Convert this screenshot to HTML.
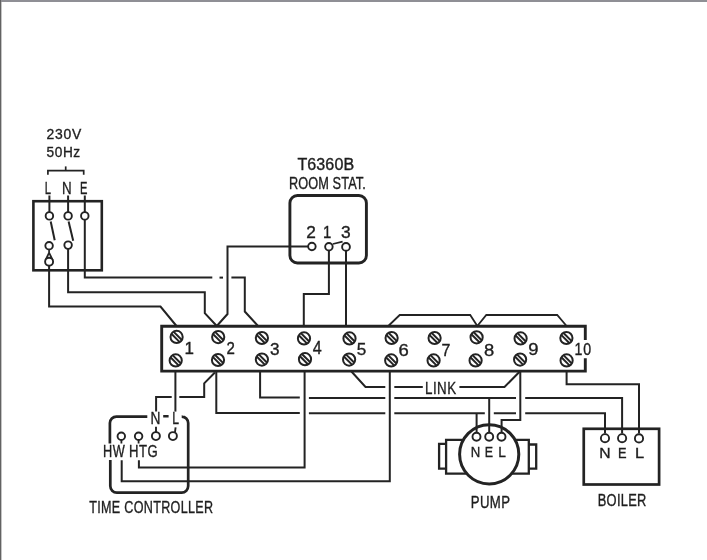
<!DOCTYPE html>
<html><head><meta charset="utf-8"><style>
html,body{margin:0;padding:0;background:#fff;}
body{width:707px;height:560px;overflow:hidden;position:relative;}
.bt{position:absolute;left:0;top:0;width:707px;height:2px;background:#8f8f95;}
.bl{position:absolute;left:0;top:0;width:1px;height:560px;background:#626262;}
.bl2{position:absolute;left:1px;top:2px;width:1px;height:558px;background:#c4c4c4;}
svg{position:absolute;left:0;top:0;will-change:transform;}
</style></head><body>
<svg width="707" height="560" viewBox="0 0 707 560">
<g fill="#1e1e1e" stroke="#1e1e1e" stroke-width="0.35" font-family="Liberation Sans, sans-serif">
<text transform="translate(46.38,138.78) scale(0.9803,1)" font-size="14.20" letter-spacing="0.816">230V</text>
<text transform="translate(46.53,156.98) scale(0.9333,1)" font-size="14.63" letter-spacing="0.643">50Hz</text>
<text transform="translate(44.65,193.52) scale(0.6582,1)" font-size="17.09">L</text>
<text transform="translate(61.97,193.52) scale(0.7819,1)" font-size="17.09">N</text>
<text transform="translate(79.95,193.52) scale(0.6525,1)" font-size="17.09">E</text>
<text transform="translate(297.41,170.47) scale(1.0284,1)" font-size="15.62" letter-spacing="0.097">T6360B</text>
<text transform="translate(288.92,188.56) scale(0.7951,1)" font-size="16.04" letter-spacing="0.126">ROOM STAT.</text>
<text transform="translate(306.31,238.12) scale(1.0697,1)" font-size="16.13">2</text>
<text transform="translate(323.06,238.12) scale(0.9114,1)" font-size="16.36">1</text>
<text transform="translate(341.02,237.97) scale(1.0923,1)" font-size="15.90">3</text>
<text transform="translate(184.40,354.43) scale(1.0116,1)" font-size="16.80">1</text>
<text transform="translate(226.52,354.43) scale(0.8714,1)" font-size="17.28">2</text>
<text transform="translate(270.03,355.06) scale(1.0510,1)" font-size="16.33">3</text>
<text transform="translate(312.81,354.43) scale(0.9208,1)" font-size="17.53">4</text>
<text transform="translate(356.69,355.05) scale(1.0015,1)" font-size="17.13">5</text>
<text transform="translate(398.45,355.95) scale(1.0854,1)" font-size="17.03">6</text>
<text transform="translate(441.43,355.62) scale(0.9537,1)" font-size="16.80">7</text>
<text transform="translate(483.89,355.95) scale(1.0806,1)" font-size="17.03">8</text>
<text transform="translate(528.30,355.45) scale(1.0854,1)" font-size="17.03">9</text>
<text transform="translate(574.61,355.26) scale(0.8842,1)" font-size="16.04" letter-spacing="0.905">10</text>
<text transform="translate(424.97,393.52) scale(0.7824,1)" font-size="17.09" letter-spacing="0.639">LINK</text>
<text transform="translate(150.44,424.12) scale(0.8776,1)" font-size="15.64">N</text>
<text transform="translate(172.37,424.12) scale(0.7776,1)" font-size="15.64">L</text>
<text transform="translate(103.12,456.72) scale(0.7794,1)" font-size="16.36" letter-spacing="0.642">HW</text>
<text transform="translate(128.99,456.57) scale(0.8262,1)" font-size="15.90" letter-spacing="0.605">HTG</text>
<text transform="translate(89.29,513.46) scale(0.7848,1)" font-size="16.04" letter-spacing="0.382">TIME CONTROLLER</text>
<text transform="translate(470.69,456.52) scale(0.8591,1)" font-size="15.35">N</text>
<text transform="translate(484.85,456.52) scale(0.8108,1)" font-size="15.35">E</text>
<text transform="translate(498.24,456.52) scale(0.8960,1)" font-size="15.35">L</text>
<text transform="translate(470.69,507.77) scale(0.8254,1)" font-size="15.99" letter-spacing="0.485">PUMP</text>
<text transform="translate(599.18,458.22) scale(1.0527,1)" font-size="14.91">N</text>
<text transform="translate(617.92,458.22) scale(0.8593,1)" font-size="14.91">E</text>
<text transform="translate(635.12,458.22) scale(1.1052,1)" font-size="14.91">L</text>
<text transform="translate(597.71,505.57) scale(0.8170,1)" font-size="15.76" letter-spacing="0.367">BOILER</text>
</g>
<rect x="163.2" y="415" width="5.4" height="2.5" fill="#232323"/>
<path d="M47.90 174.70 L47.90 170.70 L83.70 170.70 L83.70 174.70" fill="none" stroke="#232323" stroke-width="1.7" stroke-linejoin="miter" stroke-linecap="butt"/>
<path d="M65.70 166.40 L65.70 170.70" fill="none" stroke="#232323" stroke-width="1.7" stroke-linejoin="miter" stroke-linecap="butt"/>
<rect x="33.4" y="201.2" width="68.4" height="69.1" fill="none" stroke="#232323" stroke-width="2.6"/>
<path d="M49.40 195.50 L49.40 212.30" fill="none" stroke="#232323" stroke-width="2.0" stroke-linejoin="miter" stroke-linecap="butt"/>
<path d="M68.10 195.50 L68.10 212.30" fill="none" stroke="#232323" stroke-width="2.0" stroke-linejoin="miter" stroke-linecap="butt"/>
<path d="M84.80 195.50 L84.80 212.30" fill="none" stroke="#232323" stroke-width="2.0" stroke-linejoin="miter" stroke-linecap="butt"/>
<path d="M84.80 219.50 L84.80 277.60 L212.30 277.60" fill="none" stroke="#232323" stroke-width="2.0" stroke-linejoin="miter" stroke-linecap="butt"/>
<path d="M219.50 277.60 L223.00 277.60" fill="none" stroke="#232323" stroke-width="2.0" stroke-linejoin="miter" stroke-linecap="butt"/>
<path d="M231.40 277.60 L244.80 277.60 L244.80 311.50 L258.00 326.00" fill="none" stroke="#232323" stroke-width="2.0" stroke-linejoin="miter" stroke-linecap="butt"/>
<path d="M50.70 221.50 L54.70 240.20" fill="none" stroke="#232323" stroke-width="2.0" stroke-linejoin="miter" stroke-linecap="butt"/>
<path d="M68.60 221.50 L73.20 240.80" fill="none" stroke="#232323" stroke-width="2.0" stroke-linejoin="miter" stroke-linecap="butt"/>
<path d="M68.10 248.70 L68.10 292.20 L204.80 292.20 L204.80 313.20 L216.80 326.00" fill="none" stroke="#232323" stroke-width="2.0" stroke-linejoin="miter" stroke-linecap="butt"/>
<path d="M49.10 249.30 L49.10 252.50" fill="none" stroke="#232323" stroke-width="1.6" stroke-linejoin="miter" stroke-linecap="butt"/>
<path d="M45.50 260.10 L49.10 252.70 L52.70 260.10" fill="none" stroke="#232323" stroke-width="1.8" stroke-linejoin="miter" stroke-linecap="butt"/>
<path d="M49.10 265.80 L49.10 306.60 L160.50 306.60 L176.50 326.00" fill="none" stroke="#232323" stroke-width="2.0" stroke-linejoin="miter" stroke-linecap="butt"/>
<circle cx="49.40" cy="215.90" r="3.75" fill="#fff" stroke="#232323" stroke-width="1.9"/>
<circle cx="68.10" cy="215.90" r="3.75" fill="#fff" stroke="#232323" stroke-width="1.9"/>
<circle cx="84.80" cy="215.90" r="3.75" fill="#fff" stroke="#232323" stroke-width="1.9"/>
<circle cx="68.10" cy="245.10" r="3.75" fill="#fff" stroke="#232323" stroke-width="1.9"/>
<circle cx="49.10" cy="245.70" r="3.75" fill="#fff" stroke="#232323" stroke-width="1.9"/>
<circle cx="49.10" cy="261.80" r="4.0" fill="#fff" stroke="#232323" stroke-width="1.9"/>
<rect x="289.9" y="195.5" width="76.5" height="67.5" rx="7.5" ry="7.5" fill="none" stroke="#232323" stroke-width="2.9"/>
<path d="M308.30 246.40 L227.50 246.40 L227.50 314.00 L216.80 326.00" fill="none" stroke="#232323" stroke-width="2.0" stroke-linejoin="miter" stroke-linecap="butt"/>
<path d="M332.80 244.00 L342.60 241.60" fill="none" stroke="#232323" stroke-width="1.8" stroke-linejoin="miter" stroke-linecap="butt"/>
<path d="M328.90 250.20 L328.90 293.90 L303.80 293.90 L303.80 326.00" fill="none" stroke="#232323" stroke-width="2.0" stroke-linejoin="miter" stroke-linecap="butt"/>
<path d="M346.00 250.20 L346.00 326.00" fill="none" stroke="#232323" stroke-width="2.0" stroke-linejoin="miter" stroke-linecap="butt"/>
<circle cx="311.90" cy="246.50" r="3.75" fill="#fff" stroke="#232323" stroke-width="1.9"/>
<circle cx="328.90" cy="246.80" r="3.75" fill="#fff" stroke="#232323" stroke-width="1.9"/>
<circle cx="346.00" cy="246.90" r="3.9" fill="#fff" stroke="#232323" stroke-width="1.9"/>
<path d="M585.30 340.00 L585.30 326.30 L161.70 326.30 L161.70 371.10 L585.30 371.10 L585.30 358.30" fill="none" stroke="#232323" stroke-width="2.9" stroke-linejoin="miter" stroke-linecap="butt"/>
<circle cx="176.60" cy="336.90" r="6.1" fill="#fff" stroke="#232323" stroke-width="2.0"/>
<line x1="171.36" y1="333.78" x2="179.72" y2="342.14" stroke="#232323" stroke-width="2.0"/>
<line x1="173.48" y1="331.66" x2="181.84" y2="340.02" stroke="#232323" stroke-width="2.0"/>
<circle cx="218.20" cy="337.10" r="6.1" fill="#fff" stroke="#232323" stroke-width="2.0"/>
<line x1="212.96" y1="333.98" x2="221.32" y2="342.34" stroke="#232323" stroke-width="2.0"/>
<line x1="215.08" y1="331.86" x2="223.44" y2="340.22" stroke="#232323" stroke-width="2.0"/>
<circle cx="261.90" cy="338.00" r="6.1" fill="#fff" stroke="#232323" stroke-width="2.0"/>
<line x1="256.66" y1="334.88" x2="265.02" y2="343.24" stroke="#232323" stroke-width="2.0"/>
<line x1="258.78" y1="332.76" x2="267.14" y2="341.12" stroke="#232323" stroke-width="2.0"/>
<circle cx="304.00" cy="338.40" r="6.1" fill="#fff" stroke="#232323" stroke-width="2.0"/>
<line x1="298.76" y1="335.28" x2="307.12" y2="343.64" stroke="#232323" stroke-width="2.0"/>
<line x1="300.88" y1="333.16" x2="309.24" y2="341.52" stroke="#232323" stroke-width="2.0"/>
<circle cx="349.50" cy="338.40" r="6.1" fill="#fff" stroke="#232323" stroke-width="2.0"/>
<line x1="344.26" y1="335.28" x2="352.62" y2="343.64" stroke="#232323" stroke-width="2.0"/>
<line x1="346.38" y1="333.16" x2="354.74" y2="341.52" stroke="#232323" stroke-width="2.0"/>
<circle cx="391.60" cy="338.00" r="6.1" fill="#fff" stroke="#232323" stroke-width="2.0"/>
<line x1="386.36" y1="334.88" x2="394.72" y2="343.24" stroke="#232323" stroke-width="2.0"/>
<line x1="388.48" y1="332.76" x2="396.84" y2="341.12" stroke="#232323" stroke-width="2.0"/>
<circle cx="434.60" cy="338.00" r="6.1" fill="#fff" stroke="#232323" stroke-width="2.0"/>
<line x1="429.36" y1="334.88" x2="437.72" y2="343.24" stroke="#232323" stroke-width="2.0"/>
<line x1="431.48" y1="332.76" x2="439.84" y2="341.12" stroke="#232323" stroke-width="2.0"/>
<circle cx="476.60" cy="337.30" r="6.1" fill="#fff" stroke="#232323" stroke-width="2.0"/>
<line x1="471.36" y1="334.18" x2="479.72" y2="342.54" stroke="#232323" stroke-width="2.0"/>
<line x1="473.48" y1="332.06" x2="481.84" y2="340.42" stroke="#232323" stroke-width="2.0"/>
<circle cx="520.60" cy="338.40" r="6.1" fill="#fff" stroke="#232323" stroke-width="2.0"/>
<line x1="515.36" y1="335.28" x2="523.72" y2="343.64" stroke="#232323" stroke-width="2.0"/>
<line x1="517.48" y1="333.16" x2="525.84" y2="341.52" stroke="#232323" stroke-width="2.0"/>
<circle cx="566.40" cy="338.00" r="6.1" fill="#fff" stroke="#232323" stroke-width="2.0"/>
<line x1="561.16" y1="334.88" x2="569.52" y2="343.24" stroke="#232323" stroke-width="2.0"/>
<line x1="563.28" y1="332.76" x2="571.64" y2="341.12" stroke="#232323" stroke-width="2.0"/>
<circle cx="175.70" cy="360.40" r="6.1" fill="#fff" stroke="#232323" stroke-width="2.0"/>
<line x1="170.46" y1="357.28" x2="178.82" y2="365.64" stroke="#232323" stroke-width="2.0"/>
<line x1="172.58" y1="355.16" x2="180.94" y2="363.52" stroke="#232323" stroke-width="2.0"/>
<circle cx="218.00" cy="360.00" r="6.1" fill="#fff" stroke="#232323" stroke-width="2.0"/>
<line x1="212.76" y1="356.88" x2="221.12" y2="365.24" stroke="#232323" stroke-width="2.0"/>
<line x1="214.88" y1="354.76" x2="223.24" y2="363.12" stroke="#232323" stroke-width="2.0"/>
<circle cx="261.90" cy="359.60" r="6.1" fill="#fff" stroke="#232323" stroke-width="2.0"/>
<line x1="256.66" y1="356.48" x2="265.02" y2="364.84" stroke="#232323" stroke-width="2.0"/>
<line x1="258.78" y1="354.36" x2="267.14" y2="362.72" stroke="#232323" stroke-width="2.0"/>
<circle cx="305.00" cy="359.20" r="6.1" fill="#fff" stroke="#232323" stroke-width="2.0"/>
<line x1="299.76" y1="356.08" x2="308.12" y2="364.44" stroke="#232323" stroke-width="2.0"/>
<line x1="301.88" y1="353.96" x2="310.24" y2="362.32" stroke="#232323" stroke-width="2.0"/>
<circle cx="349.10" cy="359.60" r="6.1" fill="#fff" stroke="#232323" stroke-width="2.0"/>
<line x1="343.86" y1="356.48" x2="352.22" y2="364.84" stroke="#232323" stroke-width="2.0"/>
<line x1="345.98" y1="354.36" x2="354.34" y2="362.72" stroke="#232323" stroke-width="2.0"/>
<circle cx="391.20" cy="360.40" r="6.1" fill="#fff" stroke="#232323" stroke-width="2.0"/>
<line x1="385.96" y1="357.28" x2="394.32" y2="365.64" stroke="#232323" stroke-width="2.0"/>
<line x1="388.08" y1="355.16" x2="396.44" y2="363.52" stroke="#232323" stroke-width="2.0"/>
<circle cx="433.60" cy="360.40" r="6.1" fill="#fff" stroke="#232323" stroke-width="2.0"/>
<line x1="428.36" y1="357.28" x2="436.72" y2="365.64" stroke="#232323" stroke-width="2.0"/>
<line x1="430.48" y1="355.16" x2="438.84" y2="363.52" stroke="#232323" stroke-width="2.0"/>
<circle cx="475.60" cy="360.40" r="6.1" fill="#fff" stroke="#232323" stroke-width="2.0"/>
<line x1="470.36" y1="357.28" x2="478.72" y2="365.64" stroke="#232323" stroke-width="2.0"/>
<line x1="472.48" y1="355.16" x2="480.84" y2="363.52" stroke="#232323" stroke-width="2.0"/>
<circle cx="520.10" cy="359.60" r="6.1" fill="#fff" stroke="#232323" stroke-width="2.0"/>
<line x1="514.86" y1="356.48" x2="523.22" y2="364.84" stroke="#232323" stroke-width="2.0"/>
<line x1="516.98" y1="354.36" x2="525.34" y2="362.72" stroke="#232323" stroke-width="2.0"/>
<circle cx="566.60" cy="360.40" r="6.1" fill="#fff" stroke="#232323" stroke-width="2.0"/>
<line x1="561.36" y1="357.28" x2="569.72" y2="365.64" stroke="#232323" stroke-width="2.0"/>
<line x1="563.48" y1="355.16" x2="571.84" y2="363.52" stroke="#232323" stroke-width="2.0"/>
<path d="M388.30 326.00 L399.70 315.00 L470.20 315.00 L477.30 326.00 L486.30 315.00 L557.20 315.00 L566.60 326.00" fill="none" stroke="#232323" stroke-width="1.8" stroke-linejoin="miter" stroke-linecap="butt"/>
<path d="M175.40 371.00 L175.40 411.60" fill="none" stroke="#232323" stroke-width="2.0" stroke-linejoin="miter" stroke-linecap="butt"/>
<path d="M216.30 371.00 L216.30 412.90 L299.80 412.90" fill="none" stroke="#232323" stroke-width="2.0" stroke-linejoin="miter" stroke-linecap="butt"/>
<path d="M214.90 372.50 L204.20 383.40 L204.20 396.90 L179.30 396.90" fill="none" stroke="#232323" stroke-width="2.0" stroke-linejoin="miter" stroke-linecap="butt"/>
<path d="M171.70 396.90 L156.10 396.90 L156.10 411.60" fill="none" stroke="#232323" stroke-width="2.0" stroke-linejoin="miter" stroke-linecap="butt"/>
<path d="M260.10 371.00 L260.10 397.60 L299.80 397.60" fill="none" stroke="#232323" stroke-width="2.0" stroke-linejoin="miter" stroke-linecap="butt"/>
<path d="M304.60 371.00 L304.60 467.50 L138.90 467.50 L138.90 460.20" fill="none" stroke="#232323" stroke-width="2.0" stroke-linejoin="miter" stroke-linecap="butt"/>
<path d="M389.80 371.00 L389.80 481.20 L121.70 481.20 L121.70 460.20" fill="none" stroke="#232323" stroke-width="2.0" stroke-linejoin="miter" stroke-linecap="butt"/>
<path d="M308.90 397.90 L385.30 397.90" fill="none" stroke="#232323" stroke-width="2.0" stroke-linejoin="miter" stroke-linecap="butt"/>
<path d="M394.30 397.90 L516.00 397.90" fill="none" stroke="#232323" stroke-width="2.0" stroke-linejoin="miter" stroke-linecap="butt"/>
<path d="M525.20 397.90 L622.10 397.90 L622.10 433.60" fill="none" stroke="#232323" stroke-width="2.0" stroke-linejoin="miter" stroke-linecap="butt"/>
<path d="M308.90 413.30 L385.30 413.30" fill="none" stroke="#232323" stroke-width="2.0" stroke-linejoin="miter" stroke-linecap="butt"/>
<path d="M394.30 413.30 L516.00 413.30" fill="none" stroke="#232323" stroke-width="2.0" stroke-linejoin="miter" stroke-linecap="butt"/>
<path d="M525.20 413.30 L605.00 413.30 L605.00 433.60" fill="none" stroke="#232323" stroke-width="2.0" stroke-linejoin="miter" stroke-linecap="butt"/>
<rect x="484.8" y="411" width="9" height="4.4" fill="#fff"/>
<path d="M476.60 413.20 L476.60 432.20" fill="none" stroke="#232323" stroke-width="2.0" stroke-linejoin="miter" stroke-linecap="butt"/>
<path d="M489.20 397.90 L489.20 432.20" fill="none" stroke="#232323" stroke-width="2.0" stroke-linejoin="miter" stroke-linecap="butt"/>
<path d="M520.30 371.00 L520.30 419.90 L501.60 419.90 L501.60 432.60" fill="none" stroke="#232323" stroke-width="2.0" stroke-linejoin="miter" stroke-linecap="butt"/>
<path d="M351.00 371.00 L365.50 387.00 L385.30 387.00" fill="none" stroke="#232323" stroke-width="2.0" stroke-linejoin="miter" stroke-linecap="butt"/>
<path d="M394.30 387.00 L422.80 387.00" fill="none" stroke="#232323" stroke-width="2.0" stroke-linejoin="miter" stroke-linecap="butt"/>
<path d="M459.40 387.00 L504.50 387.00 L520.30 371.00" fill="none" stroke="#232323" stroke-width="2.0" stroke-linejoin="miter" stroke-linecap="butt"/>
<path d="M566.60 371.00 L566.60 384.30 L639.00 384.30 L639.00 433.60" fill="none" stroke="#232323" stroke-width="2.0" stroke-linejoin="miter" stroke-linecap="butt"/>
<path d="M147.3 416.6 L116.4 416.6 A6.5 6.5 0 0 0 109.9 423.1 L109.9 443.6 M110.3 460 L110.3 486.1 A6.5 6.5 0 0 0 116.8 492.6 L181.7 492.6 A6.5 6.5 0 0 0 188.2 486.1 L188.2 423.1 A6.5 6.5 0 0 0 181.7 416.6 L182.5 416.6" fill="none" stroke="#232323" stroke-width="2.7"/>
<path d="M121.40 440.00 L121.40 443.50" fill="none" stroke="#232323" stroke-width="1.8" stroke-linejoin="miter" stroke-linecap="butt"/>
<path d="M138.60 440.00 L138.60 443.50" fill="none" stroke="#232323" stroke-width="1.8" stroke-linejoin="miter" stroke-linecap="butt"/>
<path d="M156.00 426.80 L156.00 432.00" fill="none" stroke="#232323" stroke-width="1.9" stroke-linejoin="miter" stroke-linecap="butt"/>
<path d="M175.60 427.40 L175.00 432.00" fill="none" stroke="#232323" stroke-width="1.9" stroke-linejoin="miter" stroke-linecap="butt"/>
<circle cx="121.30" cy="436.30" r="3.75" fill="#fff" stroke="#232323" stroke-width="1.9"/>
<circle cx="138.60" cy="436.30" r="3.75" fill="#fff" stroke="#232323" stroke-width="1.9"/>
<circle cx="155.90" cy="436.10" r="4.0" fill="#fff" stroke="#232323" stroke-width="1.9"/>
<circle cx="172.90" cy="436.10" r="4.0" fill="#fff" stroke="#232323" stroke-width="1.9"/>
<circle cx="489.2" cy="454.3" r="29.6" fill="none" stroke="#232323" stroke-width="3.0"/>
<path d="M462.70 439.80 L446.10 439.80 L446.10 473.60 L466.80 473.60" fill="none" stroke="#232323" stroke-width="2.3" stroke-linejoin="miter" stroke-linecap="butt"/>
<path d="M446.10 443.80 L439.10 443.80 L439.10 468.60 L446.10 468.60" fill="none" stroke="#232323" stroke-width="2.3" stroke-linejoin="miter" stroke-linecap="butt"/>
<path d="M515.70 439.80 L528.80 439.80 L528.80 473.70 L511.60 473.70" fill="none" stroke="#232323" stroke-width="2.3" stroke-linejoin="miter" stroke-linecap="butt"/>
<path d="M528.80 444.50 L536.20 444.50 L536.20 468.60 L528.80 468.60" fill="none" stroke="#232323" stroke-width="2.3" stroke-linejoin="miter" stroke-linecap="butt"/>
<circle cx="476.50" cy="436.80" r="4.0" fill="#fff" stroke="#232323" stroke-width="1.9"/>
<circle cx="489.20" cy="436.80" r="4.0" fill="#fff" stroke="#232323" stroke-width="1.9"/>
<circle cx="501.50" cy="436.80" r="4.0" fill="#fff" stroke="#232323" stroke-width="1.9"/>
<rect x="583.75" y="428.8" width="75.35" height="55.7" fill="none" stroke="#232323" stroke-width="2.7"/>
<circle cx="605.00" cy="438.20" r="4.1" fill="#fff" stroke="#232323" stroke-width="1.9"/>
<circle cx="622.10" cy="438.20" r="4.1" fill="#fff" stroke="#232323" stroke-width="1.9"/>
<circle cx="639.00" cy="438.40" r="4.1" fill="#fff" stroke="#232323" stroke-width="1.9"/>
</svg>
<div class="bt"></div><div class="bl"></div><div class="bl2"></div>
</body></html>
